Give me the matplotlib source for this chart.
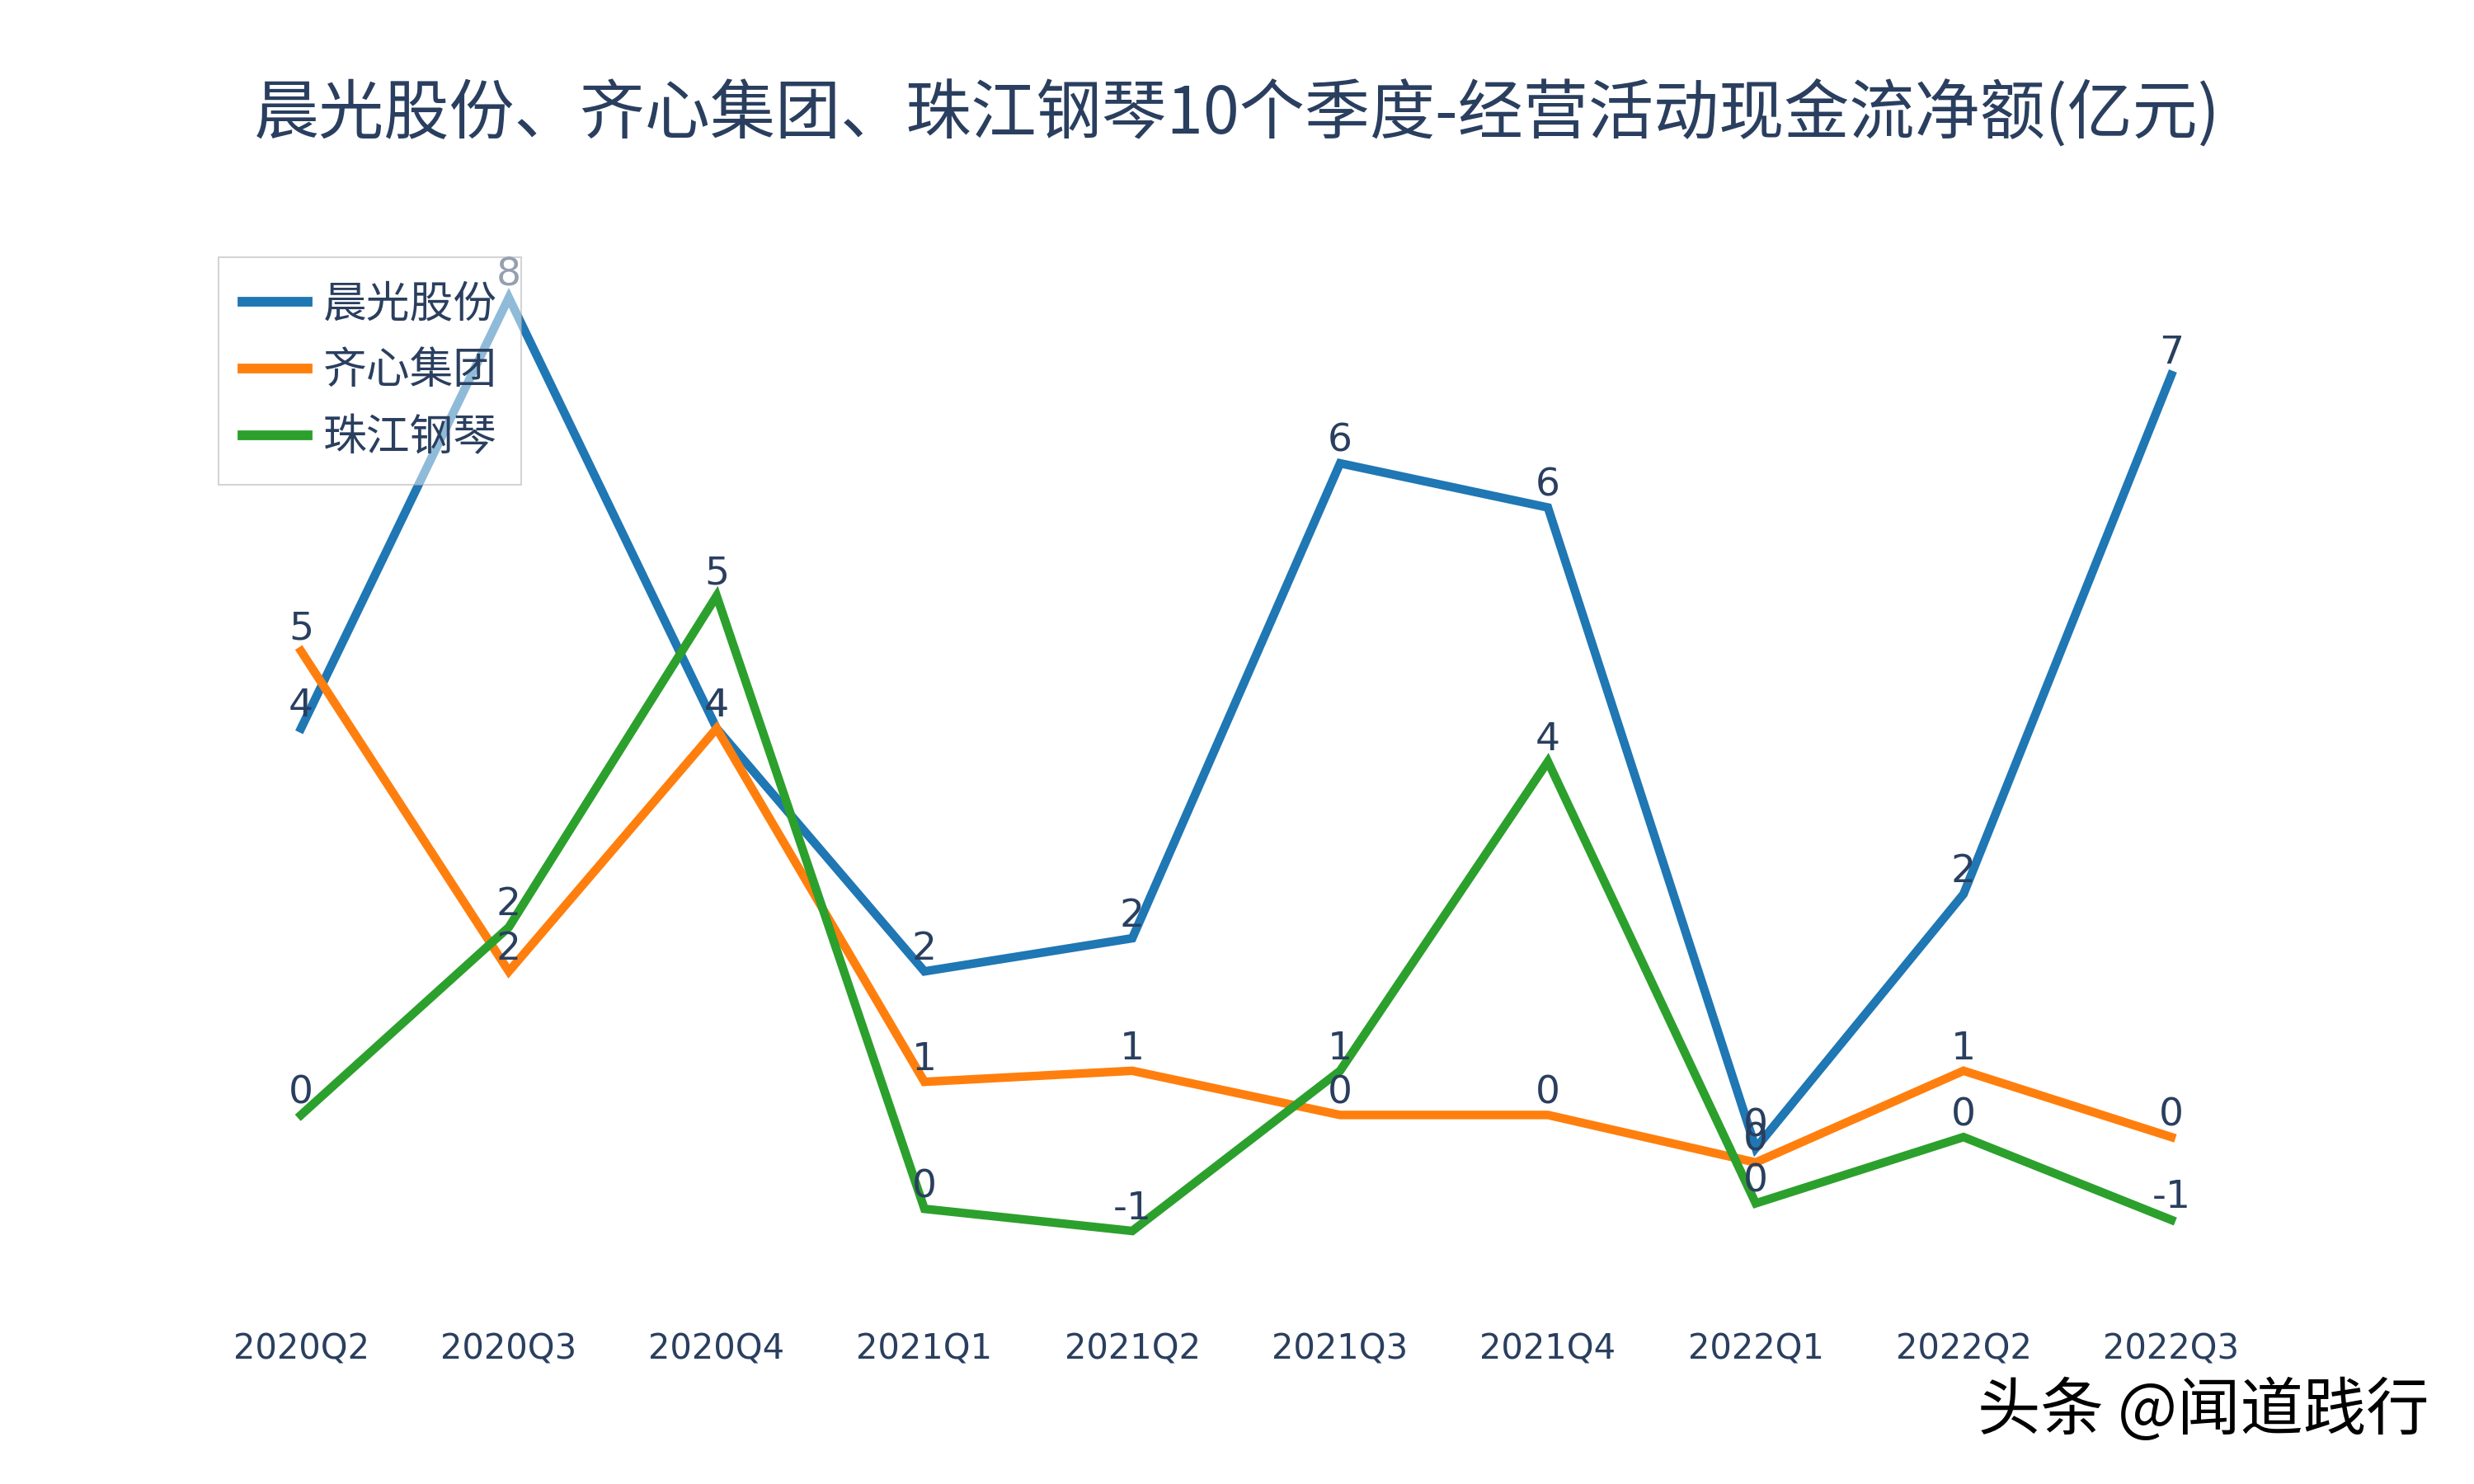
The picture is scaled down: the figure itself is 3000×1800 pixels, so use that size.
import matplotlib
matplotlib.use("Agg")
import matplotlib.pyplot as plt

quarters = ["2020Q2", "2020Q3", "2020Q4", "2021Q1", "2021Q2",
            "2021Q3", "2021Q4", "2022Q1", "2022Q2", "2022Q3"]
chenguang = [3.9, 7.8, 3.9, 1.7, 2.0, 6.3, 5.9, 0.1, 2.4, 7.1]
qixin = [4.6, 1.7, 3.9, 0.7, 0.8, 0.4, 0.4, -0.03, 0.8, 0.2]
zhujiang = [0.4, 2.1, 5.1, -0.45, -0.65, 0.8, 3.6, -0.4, 0.2, -0.55]
names = ["晨光股份", "齐心集团", "珠江钢琴"]
colors = ["#1f77b4", "#ff7f0e", "#2ca02c"]

cjk = ["Noto Sans CJK SC", "DejaVu Sans"]
latin = ["DejaVu Sans", "Noto Sans CJK SC"]
txt_color = "#2a3f5f"

fig = plt.figure(figsize=(30, 18), dpi=100)
ax = fig.add_axes([365 / 3000, 250 / 1800, 2268 / 3000, 1260 / 1800])
ax.set_xlim(0, 9)
ax.set_ylim(-1.075, 8.33)

xs = list(range(len(quarters)))
for vals, name, c in zip([chenguang, qixin, zhujiang], names, colors):
    ax.plot(xs, vals, color=c, lw=7.5, label=name, clip_on=False, solid_joinstyle="miter")
    for x, v in zip(xs, vals):
        ax.annotate(str(int(round(v))), (x, v), xytext=(0, 3), textcoords="offset points",
                    ha="center", va="bottom", fontsize=34, color=txt_color,
                    family=latin, annotation_clip=False)

ax.set_xticks(xs)
ax.set_xticklabels(quarters, family=latin, fontsize=30, color=txt_color)
ax.tick_params(axis="x", length=0, pad=47)
ax.set_yticks([])
for s in ax.spines.values():
    s.set_visible(False)

leg = fig.legend(loc="upper left", bbox_to_anchor=(265 / 3000, 1 - 312 / 1800),
                 borderaxespad=0, prop={"family": cjk, "size": 38}, frameon=True,
                 fancybox=False, framealpha=0.5, edgecolor="#aaaaaa",
                 handlelength=1.5, labelspacing=0.5,
                 borderpad=0.55, handletextpad=0.35)
leg.get_frame().set_linewidth(1.5)
for t in leg.get_texts():
    t.set_color(txt_color)
for h in leg.get_lines():
    h.set_linewidth(8.5)

fig.text(0.5, 1 - 138 / 1800, "晨光股份、齐心集团、珠江钢琴10个季度-经营活动现金流净额(亿元)",
         ha="center", va="center", fontsize=57, family=cjk, color=txt_color)
fig.text(2946 / 3000, 1 - 1712 / 1800, "头条 @闻道践行", ha="right", va="center",
         fontsize=55, family=cjk, color="black")

fig.savefig("out.png", dpi=100, facecolor="white")
